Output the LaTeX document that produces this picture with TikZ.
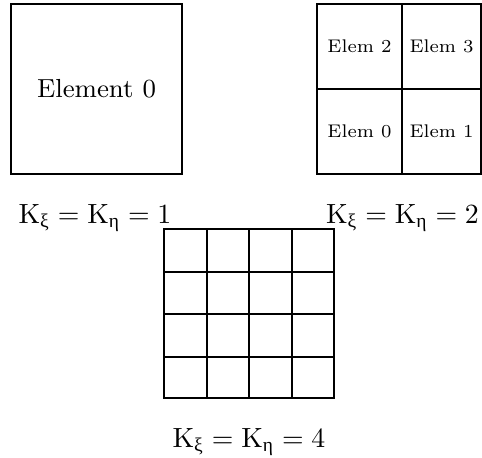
\documentclass[tikz,border=0pt]{standalone}
\usepackage{amsmath}
\usepackage{fontspec}
\newfontfamily\grfont{Liberation Serif}
\newcommand{\upx}{\text{\grfont ξ}}
\newcommand{\upe}{\text{\grfont η}}
\begin{document}
\begin{tikzpicture}[x=0.36pt,y=-0.36pt,
  gridline/.style={line width=0.8pt},
  bigtext/.style={font=\fontsize{9.4}{11}\selectfont},
  celltext/.style={font=\fontsize{6.6}{8}\selectfont},
  klabel/.style={anchor=base,inner sep=0pt}]
\useasboundingbox (0,0) rectangle (482,457);
% single element
\draw[gridline] (11,4) rectangle (182,174);
\node[bigtext] (e0) at (96.5,89) {Element 0};
% 2x2
\draw[gridline] (317,4) rectangle (481.5,174);
\draw[gridline] (402,4) -- (402,174);
\draw[gridline] (317,89) -- (481.5,89);
\node[celltext] (c2) at (359.5,46.5) {Elem 2};
\node[celltext] (c3) at (441.5,46.5) {Elem 3};
\node[celltext] (c0) at (359.5,131.5) {Elem 0};
\node[celltext] (c1) at (441.5,131.5) {Elem 1};
% 4x4
\draw[gridline] (164,229) rectangle (334,398);
\foreach \xx in {207,249,292} \draw[gridline] (\xx,229) -- (\xx,398);
\foreach \yy in {272,314,357} \draw[gridline] (164,\yy) -- (334,\yy);
% labels
\node[klabel] (k1) at (95,223) {$\mathrm{K}_{\upx}=\mathrm{K}_{\upe}=1$};
\node[klabel] (k2) at (402.5,223) {$\mathrm{K}_{\upx}=\mathrm{K}_{\upe}=2$};
\node[klabel] (k4) at (249,447) {$\mathrm{K}_{\upx}=\mathrm{K}_{\upe}=4$};
\end{tikzpicture}
\end{document}
